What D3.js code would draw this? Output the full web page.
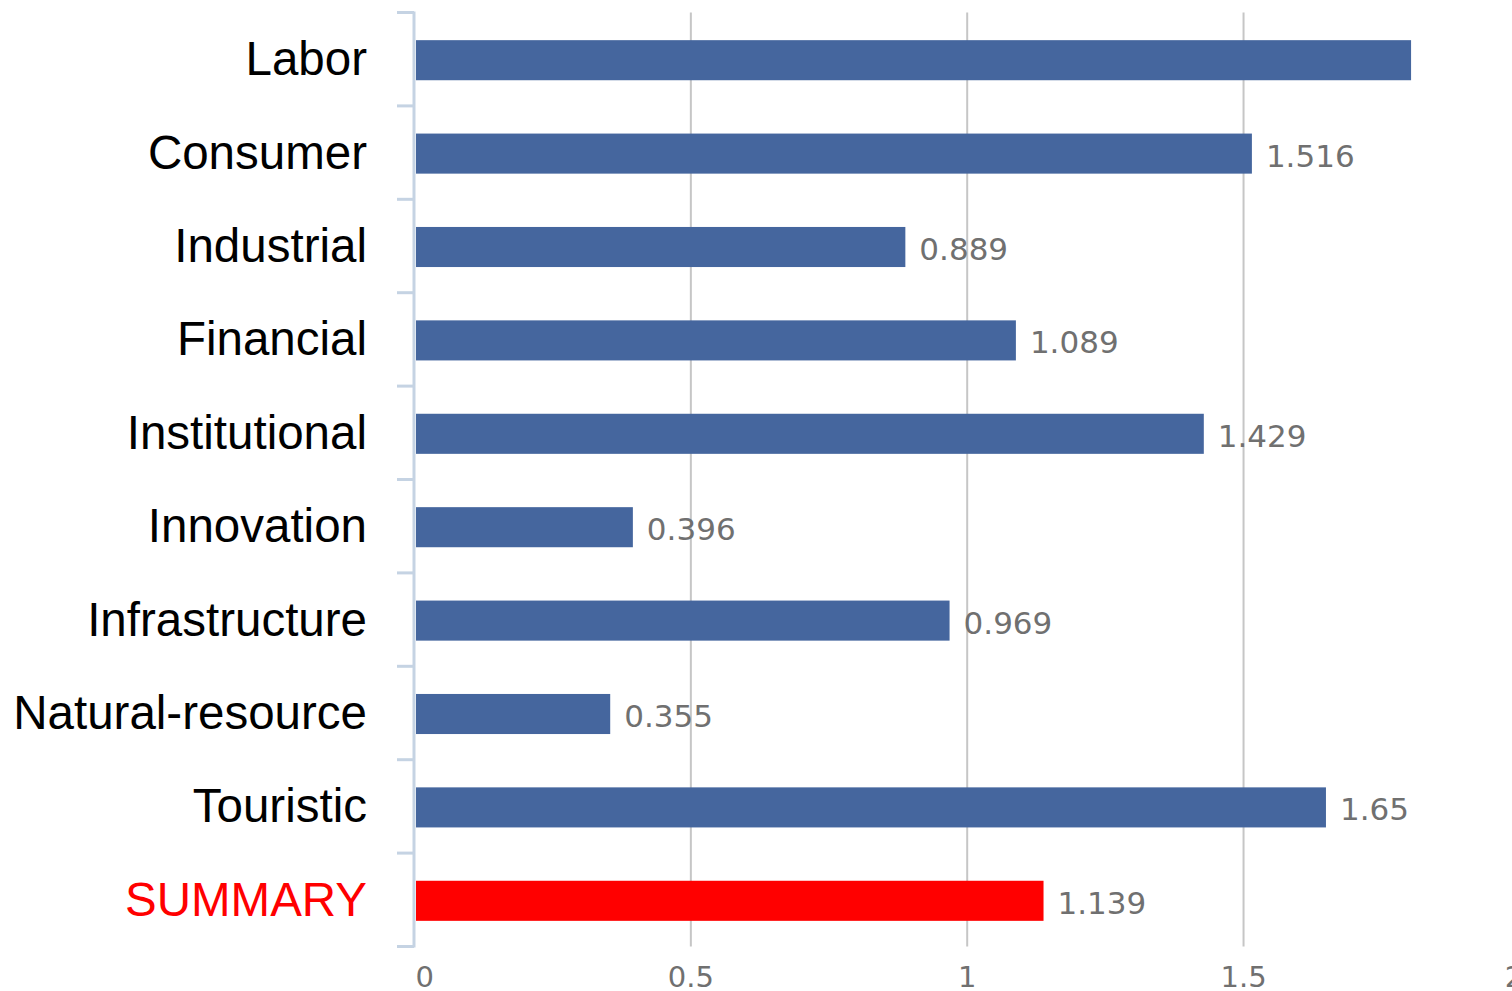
<!DOCTYPE html>
<html>
<head>
<meta charset="utf-8">
<script src="https://cdn.jsdelivr.net/npm/d3@7/dist/d3.min.js"></script>
<style>
  html, body { margin: 0; padding: 0; background: #fff; overflow: hidden; }
  svg { display: block; }
</style>
</head>
<body>
<svg id="chart" width="1512" height="991"></svg>
<script>
// ---- data ----
const categories = ["Labor", "Consumer", "Industrial", "Financial", "Institutional",
  "Innovation", "Infrastructure", "Natural-resource", "Touristic", "SUMMARY"];
const values = [1.804, 1.516, 0.889, 1.089, 1.429, 0.396, 0.969, 0.355, 1.65, 1.139];
const valueLabels = ["1.804", "1.516", "0.889", "1.089", "1.429", "0.396", "0.969", "0.355", "1.65", "1.139"];
const tickValues = [0, 0.5, 1, 1.5, 2];
const tickLabels = ["0", "0.5", "1", "1.5", "2"];
const highlight = "SUMMARY";

// ---- layout ----
const W = 1512, H = 991;
const plotLeft = 414, plotTop = 12.5, plotBottom = 946.5;
const svg = d3.select("#chart");

const x = d3.scaleLinear().domain([0, 2]).range([plotLeft, plotLeft + 1105.4]);
const y = d3.scaleBand().domain(categories).range([plotTop, plotBottom]).padding(0);
const barH = y.step() * 0.429;

// gridlines + tick labels
const gAxis = svg.append("g").attr("transform", `translate(0,${plotBottom})`);
gAxis.call(d3.axisBottom(x).tickValues(tickValues)
  .tickFormat((d, i) => tickLabels[i]).tickSize(-(plotBottom - plotTop)));
gAxis.select(".domain").remove();
gAxis.selectAll(".tick line")
  .attr("stroke", "#c6c6c6").attr("stroke-width", 2)
  .attr("display", d => d === 0 ? "none" : null);
gAxis.selectAll(".tick text")
  .attr("dy", null).attr("y", 40.5)
  .attr("font-family", "DejaVu Sans").attr("font-size", 29)
  .attr("fill", "#707070")
  .attr("text-anchor", (d, i) => i === 0 ? "start" : "middle")
  .attr("x", (d, i) => i === 0 ? 1 : (i === tickValues.length - 1 ? -6 : 0));

// bars
svg.append("g").selectAll("rect").data(categories).join("rect")
  .attr("x", x(0) + 2)
  .attr("y", d => y(d) + (y.step() - barH) / 2 + 1)
  .attr("width", (d, i) => x(values[i]) - x(0) - 2)
  .attr("height", barH)
  .attr("fill", d => d === highlight ? "#ff0000" : "#45669e");

// value labels
const vl = svg.append("g").selectAll("text").data(categories).join("text")
  .attr("x", (d, i) => x(values[i]) + 14)
  .attr("y", d => y(d) + y.step() / 2 + 14)
  .attr("font-family", "DejaVu Sans").attr("font-size", 31)
  .attr("fill", "#707070")
  .text((d, i) => valueLabels[i]);
vl.each(function() {
  const bb = this.getBBox();
  if (bb.x + bb.width > W) d3.select(this).remove();
});

// left axis line with boundary ticks
const gLeft = svg.append("g");
gLeft.append("line")
  .attr("x1", plotLeft).attr("x2", plotLeft)
  .attr("y1", plotTop - 1).attr("y2", plotBottom + 1)
  .attr("stroke", "#c5d3e3").attr("stroke-width", 3);
const bounds = categories.map(c => y(c)).concat([y.range()[1]]);
gLeft.selectAll("line.b").data(bounds).join("line").attr("class", "b")
  .attr("x1", 397).attr("x2", plotLeft)
  .attr("y1", d => d).attr("y2", d => d)
  .attr("stroke", "#c5d3e3").attr("stroke-width", 3);

// category labels
svg.append("g").selectAll("text").data(categories).join("text")
  .attr("x", 367)
  .attr("y", d => y(d) + y.step() / 2 + 16)
  .attr("text-anchor", "end")
  .attr("font-family", "Liberation Sans, Arial, sans-serif")
  .attr("font-size", 47.5)
  .attr("fill", d => d === highlight ? "#ff0000" : "#000")
  .text(d => d);
</script>
</body>
</html>
